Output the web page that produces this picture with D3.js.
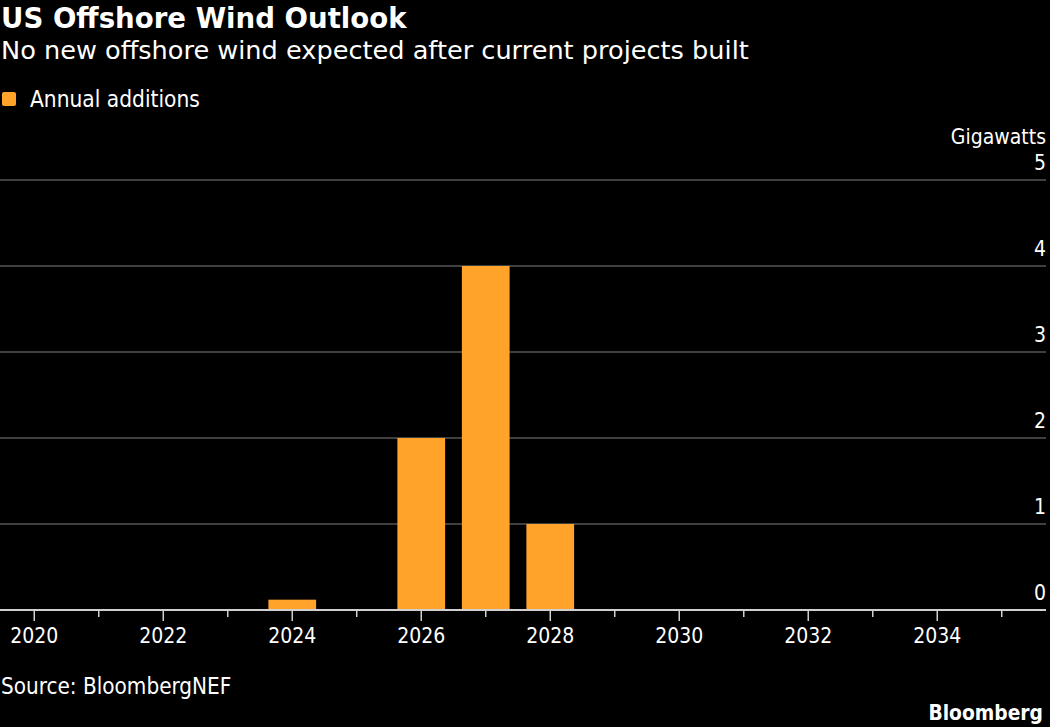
<!DOCTYPE html>
<html>
<head>
<meta charset="utf-8">
<script src="https://cdn.jsdelivr.net/npm/d3@7"></script>
<style>
  body { margin: 0; background: #000; }
  svg text { font-family: "DejaVu Sans Condensed", "DejaVu Sans", sans-serif; fill: #fff; }
  svg text.head { font-family: "DejaVu Sans", sans-serif; }
</style>
</head>
<body>
<svg id="chart" width="1050" height="727"></svg>
<script>
// chart data
const years = [2020, 2021, 2022, 2023, 2024, 2025, 2026, 2027, 2028, 2029, 2030, 2031, 2032, 2033, 2034, 2035];
const additions = [0, 0, 0, 0, 0.12, 0, 2, 4, 1, 0, 0, 0, 0, 0, 0, 0];
const yTicks = [0, 1, 2, 3, 4, 5];
const xLabels = [2020, 2022, 2024, 2026, 2028, 2030, 2032, 2034];

const svg = d3.select('#chart');
const W = 1050, H = 727;

svg.append('rect').attr('width', W).attr('height', H).attr('fill', '#000');

// titles
svg.append('text').attr('class', 'head').attr('x', 1).attr('y', 28)
  .attr('font-size', 27.6).attr('font-weight', 'bold')
  .text('US Offshore Wind Outlook');
svg.append('text').attr('class', 'head').attr('x', 1).attr('y', 59)
  .attr('font-size', 25.6)
  .text('No new offshore wind expected after current projects built');

// legend
svg.append('rect').attr('x', 2).attr('y', 92).attr('width', 14).attr('height', 14)
  .attr('rx', 2).attr('fill', '#ffa32a');
svg.append('text').attr('x', 30).attr('y', 107).attr('font-size', 22.5)
  .text('Annual additions');

// scales
const x = d3.scaleBand().domain(years).range([2, 1034])
  .paddingInner(0.26).paddingOuter(0.13);
const y = d3.scaleLinear().domain([0, 5]).range([610, 180]);
const plotRight = 1046;

// gridlines
svg.append('g').selectAll('line').data(yTicks.filter(d => d > 0)).join('line')
  .attr('x1', 0).attr('x2', plotRight)
  .attr('y1', d => y(d)).attr('y2', d => y(d))
  .attr('stroke', '#555').attr('stroke-width', 1.5);

// y labels
svg.append('g').selectAll('text').data(yTicks).join('text')
  .attr('x', plotRight).attr('y', d => y(d) - 10)
  .attr('text-anchor', 'end').attr('font-size', 21)
  .text(d => d);
svg.append('text').attr('x', plotRight).attr('y', 144)
  .attr('text-anchor', 'end').attr('font-size', 21)
  .text('Gigawatts');

// bars
svg.append('g').selectAll('rect').data(years.map((yr, i) => ({ yr, v: additions[i] })))
  .join('rect')
  .attr('x', d => x(d.yr)).attr('width', x.bandwidth())
  .attr('y', d => y(d.v)).attr('height', d => y(0) - y(d.v))
  .attr('fill', '#ffa32a');

// x axis
const xAxis = svg.append('g');
xAxis.append('line').attr('x1', 0).attr('x2', plotRight)
  .attr('y1', y(0)).attr('y2', y(0))
  .attr('stroke', '#d0d0d0').attr('stroke-width', 2);
xAxis.selectAll('line.tick').data(years).join('line').attr('class', 'tick')
  .attr('x1', d => x(d) + x.bandwidth() / 2).attr('x2', d => x(d) + x.bandwidth() / 2)
  .attr('y1', y(0)).attr('y2', d => y(0) + (xLabels.includes(d) ? 11 : 7))
  .attr('stroke', '#d0d0d0').attr('stroke-width', 1.5);
xAxis.selectAll('text').data(xLabels).join('text')
  .attr('x', d => x(d) + x.bandwidth() / 2).attr('y', 643)
  .attr('text-anchor', 'middle').attr('font-size', 21)
  .text(d => d);

// footer
svg.append('text').attr('x', 1).attr('y', 694).attr('font-size', 22.3)
  .text('Source: BloombergNEF');
svg.append('text').attr('x', 1043).attr('y', 720)
  .attr('text-anchor', 'end').attr('font-size', 20.8).attr('font-weight', 'bold')
  .text('Bloomberg');
</script>
</body>
</html>
